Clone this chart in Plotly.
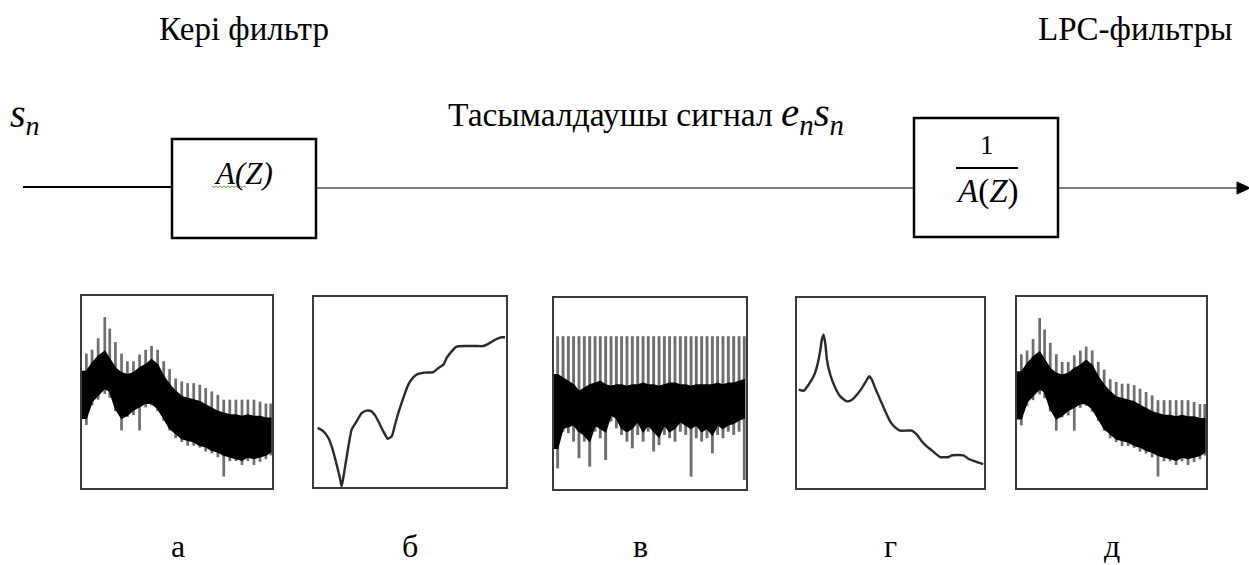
import plotly.graph_objects as go

W, H = 1249, 565
SERIF = "Liberation Serif"

# --- Spectrum (а) input speech s_n: harmonic lines over a dense noise band ---
a_freq = [2.3, 5.3, 8.5, 12.0, 14.6, 17.6, 20.8, 23.9, 27.1, 30.3, 33.5, 36.6,
          39.8, 43.0, 46.1, 49.3, 52.5, 55.6, 58.8, 62.0, 65.1, 68.3, 71.5, 74.6,
          77.8, 81.0, 84.2, 87.3, 90.5, 93.7, 96.8, 99.3]
a_peak = [70, 72, 78, 89, 83, 76, 70, 66, 66, 69.5, 72, 74,
          72, 66, 62, 57, 55.5, 54.6, 54.6, 53.8, 52, 50.3, 48.5, 46,
          46, 46, 46, 46, 46, 45, 44, 44]
a_floor = [32.8, 43, 46, 49, 47, 40, 30, 37, 38, 30, 42, 43,
           40, 35, 30, 26, 24, 22, 22, 21, 19, 18, 16, 6,
           14, 14, 12, 14, 12, 13.6, 15, 17]
a_band_hi = [60.7, 65, 68.6, 71.2, 66.8, 62.5, 59.9, 59, 59.9, 62.5, 64.2, 66.8,
             64.2, 58.1, 53.8, 50.3, 47.6, 46.8, 45.9, 45, 43.3, 41.5, 39.8, 38.9,
             38, 38, 37.2, 38, 37.2, 37.2, 36.3, 36.3]
a_band_lo = [36.3, 45, 48.5, 52, 50.3, 41.5, 36.3, 38, 40.7, 42.4, 44.2, 44.2,
             41.5, 36.3, 31.1, 28.4, 25.8, 25, 24.1, 22.3, 21.5, 19.7, 18.8, 17.1,
             16.2, 15.4, 14.5, 16.2, 15.4, 16.2, 17.1, 18.8]

# --- (б) inverse filter A(Z) magnitude response ---
b_freq = [1.9, 4.9, 7.5, 9.5, 11.8, 13.5, 14.4, 15.8, 17.5, 19.6, 22.2, 24.8,
          27.4, 30.0, 31.8, 33.5, 36.1, 38.4, 40.5, 42.2, 43.9, 46.5, 49.1, 51.7,
          54.3, 57.8, 62.2, 64.8, 67.4, 69.1, 71.7, 74.3, 78.6, 83.9, 88.2, 90.8,
          94.3, 97.7, 99.5]
b_level = [31.1, 29.3, 25.8, 20.5, 11.8, 4.7, 0.3, 8.2, 18.8, 30.2, 34.6, 38.9,
           40.2, 39.8, 37.7, 34.6, 29.3, 25.4, 26.7, 32.8, 38.9, 46.8, 53.9, 57.7,
           59.5, 60.2, 60.5, 62.6, 64.4, 67.9, 71.4, 73.9, 74.2, 74.2, 74.2, 75.3,
           77.5, 78.8, 78.8]

# --- (в) residual / excitation e_n: flat harmonic lines ---
c_freq = [1.9, 4.7, 7.5, 10.2, 13.0, 15.8, 18.6, 21.4, 24.1, 26.9, 29.7, 32.5,
          35.2, 38.0, 40.8, 43.6, 46.4, 49.1, 51.9, 54.7, 57.5, 60.2, 63.0, 65.8,
          68.6, 71.4, 74.1, 76.9, 79.7, 82.5, 85.2, 88.0, 90.8, 93.6, 96.4, 99.1]
c_peak = [80, 80, 80, 80, 80, 80, 80, 80, 80, 80, 80, 80,
          80, 80, 80, 80, 80, 80, 80, 80, 80, 80, 80, 80,
          80, 80, 80, 80, 80, 80, 80, 80, 80, 80, 80, 80]
c_floor = [10.8, 30, 29.2, 24.8, 16.1, 24.8, 11.7, 30, 26.6, 15.2, 35.3, 31.8,
           28.3, 24.8, 21.3, 28.3, 24.8, 30, 19.6, 23, 28.3, 26.6, 24.8, 30,
           28.3, 6.5, 26.6, 24.8, 26.6, 18.7, 28.3, 26.6, 30, 28.3, 30, 4.7]
c_band_hi = [59.8, 58, 56.3, 54.5, 51, 52.8, 54.5, 55.4, 56.3, 54.5, 53.7, 54.5,
             54.5, 53.7, 54.5, 54.5, 55.4, 54.5, 54.5, 53.7, 54.5, 55.4, 55.4, 54.5,
             54.5, 53.7, 54.5, 54.5, 54.5, 54.5, 55.4, 54.5, 55.4, 55.4, 56.3, 57.2]
c_band_lo = [21.3, 31.8, 32.7, 33.6, 30.1, 28.3, 24.8, 33.6, 31.8, 30.1, 38.8, 37.1,
             31.8, 30.1, 31.8, 35.3, 30.1, 33.6, 30.1, 27.4, 33.6, 30.1, 31.8, 35.3,
             33.6, 31.8, 33.6, 30.1, 31.8, 28.3, 33.6, 31.8, 33.6, 34.4, 36.2, 37.1]

# --- (г) synthesis filter 1/A(Z) envelope ---
d_freq = [0.9, 3.6, 6.2, 8.9, 10.7, 12.5, 13.3, 14.2, 15.1, 16.0, 17.8, 20.5,
          23.1, 26.7, 29.4, 32.0, 34.7, 37.4, 38.6, 40.0, 41.8, 44.5, 47.2, 49.8,
          52.5, 55.2, 61.4, 64.1, 66.7, 69.4, 72.1, 76.5, 81.0, 82.7, 89.0, 91.6,
          95.2, 99.6]
d_level = [51.8, 51.2, 54.4, 58.8, 64.0, 72.8, 78.1, 80.7, 76.3, 67.5, 59.6, 52.6,
           48.2, 45.6, 46.5, 49.1, 52.6, 57.0, 58.8, 57.0, 52.6, 46.5, 40.4, 35.1,
           31.9, 30.2, 30.2, 28.1, 24.6, 21.9, 19.8, 16.3, 16.3, 17.2, 17.2, 15.4,
           14.0, 12.6]

panel_labels = ["а", "б", "в", "г", "д"]

# Panel frames in pixels: (left, top, right, bottom)
panel_boxes = [(82, 296, 272, 488), (314, 297, 506, 487), (554, 298, 746, 489),
               (797, 298, 984, 488), (1017, 297, 1206, 488)]
label_x = [178, 410, 640, 890, 1112]


def px(x):
    return x / W


def py(y):
    return 1 - y / H


fig = go.Figure()


def spikes(freq, lo, hi, ax, width):
    xs, ys = [], []
    for f, l, h in zip(freq, lo, hi):
        xs += [f, f, None]
        ys += [l, h, None]
    return go.Scatter(x=xs, y=ys, mode="lines", xaxis="x" + ax, yaxis="y" + ax,
                      line=dict(color="#6e6e6e", width=width),
                      hoverinfo="skip", showlegend=False)


def band(freq, hi, lo, ax):
    xs = [0] + freq + freq[::-1] + [0]
    ys = [hi[0]] + hi + lo[::-1] + [lo[0]]
    return go.Scatter(x=xs, y=ys, mode="lines", fill="toself", fillcolor="#000000",
                      xaxis="x" + ax, yaxis="y" + ax,
                      line=dict(color="#000000", width=1.5),
                      hoverinfo="skip", showlegend=False)


def curve(freq, level, ax):
    return go.Scatter(x=freq, y=level, mode="lines", xaxis="x" + ax, yaxis="y" + ax,
                      line=dict(color="#2a2a2a", width=2.4, shape="spline",
                                smoothing=0.5),
                      hoverinfo="skip", showlegend=False)


# (а) input spectrum
fig.add_trace(spikes(a_freq, a_floor, a_peak, "1", 2.7))
fig.add_trace(band(a_freq, a_band_hi, a_band_lo, "1"))
# (б) inverse filter
fig.add_trace(curve(b_freq, b_level, "2"))
# (в) residual
fig.add_trace(spikes(c_freq, c_floor, c_peak, "3", 2.9))
fig.add_trace(band(c_freq, c_band_hi, c_band_lo, "3"))
# (г) synthesis filter
fig.add_trace(curve(d_freq, d_level, "4"))
# (д) reconstructed output spectrum
fig.add_trace(spikes(a_freq, a_floor, a_peak, "5", 2.7))
fig.add_trace(band(a_freq, a_band_hi, a_band_lo, "5"))

axis_style = dict(range=[0, 100], showticklabels=False, showgrid=False,
                  zeroline=False, showline=True, mirror=True,
                  linecolor="#3a3a3a", linewidth=2, ticks="", fixedrange=True)

layout_axes = {}
for i, (l, t, r, b) in enumerate(panel_boxes, start=1):
    key = "" if i == 1 else str(i)
    layout_axes["xaxis" + key] = dict(domain=[px(l), px(r)], anchor="y" + str(i),
                                      **axis_style)
    layout_axes["yaxis" + key] = dict(domain=[py(b), py(t)], anchor="x" + str(i),
                                      **axis_style)

# Block diagram: signal path, filter boxes, arrow
shapes = []
line_y = 188
shapes.append(dict(type="line", xref="paper", yref="paper",
                   x0=px(23), x1=px(172), y0=py(187), y1=py(187),
                   line=dict(color="black", width=2)))
shapes.append(dict(type="rect", xref="paper", yref="paper",
                   x0=px(172), x1=px(316), y0=py(139), y1=py(238),
                   line=dict(color="black", width=2.5)))
shapes.append(dict(type="line", xref="paper", yref="paper",
                   x0=px(316), x1=px(914), y0=py(line_y), y1=py(line_y),
                   line=dict(color="black", width=1)))
shapes.append(dict(type="rect", xref="paper", yref="paper",
                   x0=px(914), x1=px(1058), y0=py(118), y1=py(237),
                   line=dict(color="black", width=2.5)))
shapes.append(dict(type="line", xref="paper", yref="paper",
                   x0=px(1058), x1=px(1240), y0=py(line_y), y1=py(line_y),
                   line=dict(color="black", width=1)))
shapes.append(dict(type="path", xref="paper", yref="paper",
                   path=f"M {px(1237)} {py(182)} L {px(1250)} {py(188)} "
                        f"L {px(1237)} {py(194)} Z",
                   fillcolor="black", line=dict(color="black", width=1)))
# fraction bar of 1/A(Z)
shapes.append(dict(type="line", xref="paper", yref="paper",
                   x0=px(956), x1=px(1018), y0=py(168), y1=py(168),
                   line=dict(color="black", width=2)))
# spell-check squiggle under A(Z)
zig = [f"M {px(212)} {py(186)}"]
xz = 212
k = 0
while xz < 246:
    xz += 2
    k += 1
    zig.append(f"L {px(xz)} {py(186 + (1.5 if k % 2 else 0))}")
shapes.append(dict(type="path", xref="paper", yref="paper", path=" ".join(zig),
                   line=dict(color="#5fa84a", width=1)))

annotations = []


def text(x, y, s, size, anchor="center", yanchor="middle"):
    annotations.append(dict(x=px(x), y=py(y), xref="paper", yref="paper", text=s,
                            showarrow=False, xanchor=anchor, yanchor=yanchor,
                            borderpad=0,
                            font=dict(family=SERIF, size=size, color="black")))


MATH = '<span style="font-size:41px">'
text(244, 29, "Кері фильтр", 33)
text(1135, 29, "LPC-фильтры", 33)
text(9, 116, "<i>s</i><sub><i>n</i></sub>", 40, anchor="left")
text(646, 115,
     "Тасымалдаушы сигнал " + MATH + "<i>e</i><sub><i>n</i></sub>"
     "<i>s</i><sub><i>n</i></sub></span>", 33.5)
text(243, 173, "<i>A(Z)</i>", 31)
text(987, 145, "1", 27)
text(987, 191, "<i>A</i>(<i>Z</i>)", 33)
for lx, lab in zip(label_x, panel_labels):
    text(lx, 565, lab, 32, yanchor="bottom")

fig.update_layout(width=W, height=H, margin=dict(l=0, r=0, t=0, b=0),
                  paper_bgcolor="white", plot_bgcolor="white",
                  showlegend=False, shapes=shapes, annotations=annotations,
                  **layout_axes)

fig.write_html("out.html", config={"displayModeBar": False})
